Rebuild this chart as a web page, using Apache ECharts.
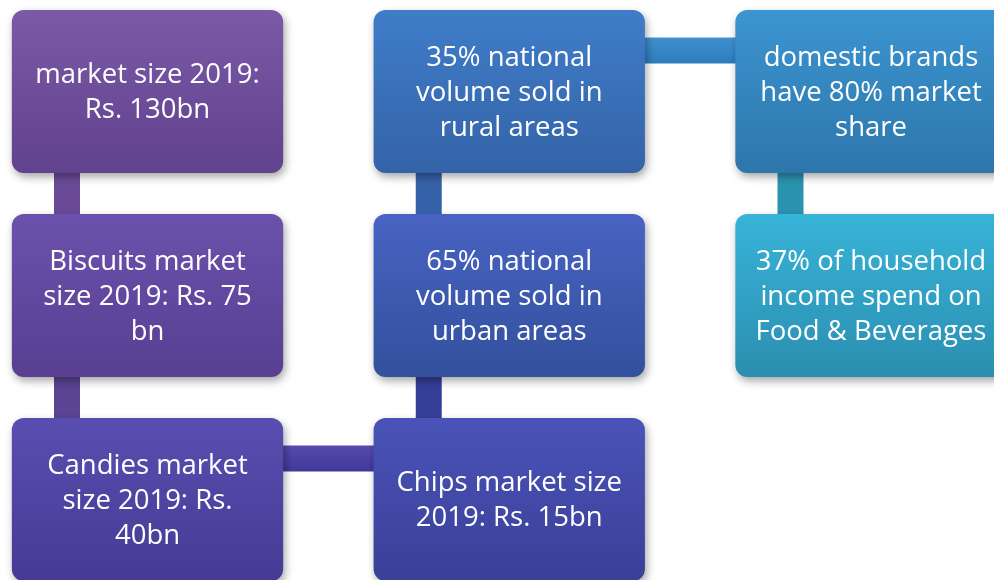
<!DOCTYPE html>
<html>
<head>
<meta charset="utf-8">
<script src="https://cdn.jsdelivr.net/npm/echarts@6/dist/echarts.min.js"></script>
<style>
  html, body { margin: 0; padding: 0; background: #fff; }
  #chart { width: 994px; height: 580px; }
</style>
</head>
<body>
<div id="chart"></div>
<script>
// boxes in flow order
const boxLabels = [
  'market size 2019:\nRs. 130bn',
  'Biscuits market\nsize 2019: Rs. 75\nbn',
  'Candies market\nsize 2019: Rs.\n40bn',
  'Chips market size\n2019: Rs. 15bn',
  '65% national\nvolume sold in\nurban areas',
  '35% national\nvolume sold in\nrural areas',
  'domestic brands\nhave 80% market\nshare',
  '37% of household\nincome spend on\nFood & Beverages'
]
const boxColumn = [0, 0, 0, 1, 1, 1, 2, 2]
const boxRow = [0, 1, 2, 2, 1, 0, 0, 1]
const boxTopColors = ['#7b59a7', '#6b51ac', '#5a4db1', '#4a53b8', '#4863c2', '#3f7dc9', '#3c95d1', '#37b4d8']
const boxBottomColors = ['#61428e', '#583f91', '#453b93', '#3a3f97', '#33509d', '#3463a7', '#2d76ab', '#2b8eb0']

// connectors between consecutive boxes
const linkFrom = [0, 1, 2, 3, 4, 5, 6]
const linkTo = [1, 2, 3, 4, 5, 6, 7]
const linkColors = ['#6a4a97', '#5a4493', '#4f46a8', '#353f97', '#3562a9', '#3b8bcb', '#2b93b0']

const BOX_W = 0.75
const BOX_H = 0.8
const LINK_PX = 26
// connectors run near the top-left corner, not through the box centres
const LINK_SHIFT_X = -80.5
const LINK_SHIFT_Y = -41
const FONT = '"Open Sans", "Noto Sans", sans-serif'

const chart = echarts.init(document.getElementById('chart'))

const boxData = boxLabels.map((label, i) => [boxColumn[i], boxRow[i], i])
const linkData = linkFrom.map((from, i) => [
  boxColumn[from], boxRow[from], boxColumn[linkTo[i]], boxRow[linkTo[i]], i
])

function shade(hex, amt) {
  const n = parseInt(hex.slice(1), 16)
  const r = Math.max(0, Math.min(255, (n >> 16) + amt))
  const g = Math.max(0, Math.min(255, ((n >> 8) & 255) + amt))
  const b = Math.max(0, Math.min(255, (n & 255) + amt))
  return 'rgb(' + r + ',' + g + ',' + b + ')'
}

chart.setOption({
  animation: false,
  grid: { left: 147.5, right: 123, top: 91.5, bottom: 80.5 },
  xAxis: { type: 'value', min: 0, max: 2, show: false },
  yAxis: { type: 'value', min: 0, max: 2, inverse: true, show: false },
  series: [
    {
      type: 'custom',
      z: 1,
      encode: { x: [0, 2], y: [1, 3] },
      data: linkData,
      renderItem: (params, api) => {
        const a = api.coord([api.value(0), api.value(1)])
        const b = api.coord([api.value(2), api.value(3)])
        const color = linkColors[api.value(4)]
        const horizontal = Math.abs(a[1] - b[1]) < 1
        const x = horizontal ? Math.min(a[0], b[0]) : a[0] + LINK_SHIFT_X - LINK_PX / 2
        const y = horizontal ? a[1] + LINK_SHIFT_Y - LINK_PX / 2 : Math.min(a[1], b[1])
        const w = horizontal ? Math.abs(a[0] - b[0]) : LINK_PX
        const h = horizontal ? LINK_PX : Math.abs(a[1] - b[1])
        return {
          type: 'rect',
          shape: { x: x, y: y, width: w, height: h },
          style: {
            fill: new echarts.graphic.LinearGradient(0, 0, 0, 1, [
              { offset: 0, color: shade(color, horizontal ? 6 : -14) },
              { offset: 0.25, color: color },
              { offset: 1, color: shade(color, horizontal ? -14 : 0) }
            ])
          }
        }
      }
    },
    {
      type: 'custom',
      z: 2,
      encode: { x: 0, y: 1 },
      data: boxData,
      renderItem: (params, api) => {
        const idx = api.value(2)
        const c = api.coord([api.value(0), api.value(1)])
        const s = api.size([BOX_W, BOX_H])
        const w = Math.abs(s[0])
        const h = Math.abs(s[1])
        return {
          type: 'rect',
          shape: { x: c[0] - w / 2, y: c[1] - h / 2, width: w, height: h, r: 12 },
          style: {
            fill: new echarts.graphic.LinearGradient(0, 0, 0, 1, [
              { offset: 0, color: boxTopColors[idx] },
              { offset: 1, color: boxBottomColors[idx] }
            ]),
            shadowBlur: 9,
            shadowOffsetX: 2,
            shadowOffsetY: 4,
            shadowColor: 'rgba(0,0,0,0.35)'
          },
          textContent: {
            style: {
              text: boxLabels[idx],
              fill: '#ffffff',
              fontFamily: FONT,
              fontSize: 27.5,
              lineHeight: 35,
              align: 'center',
              verticalAlign: 'middle'
            }
          },
          textConfig: { position: 'inside', offset: [0, 1.5] }
        }
      }
    }
  ]
})
</script>
</body>
</html>
